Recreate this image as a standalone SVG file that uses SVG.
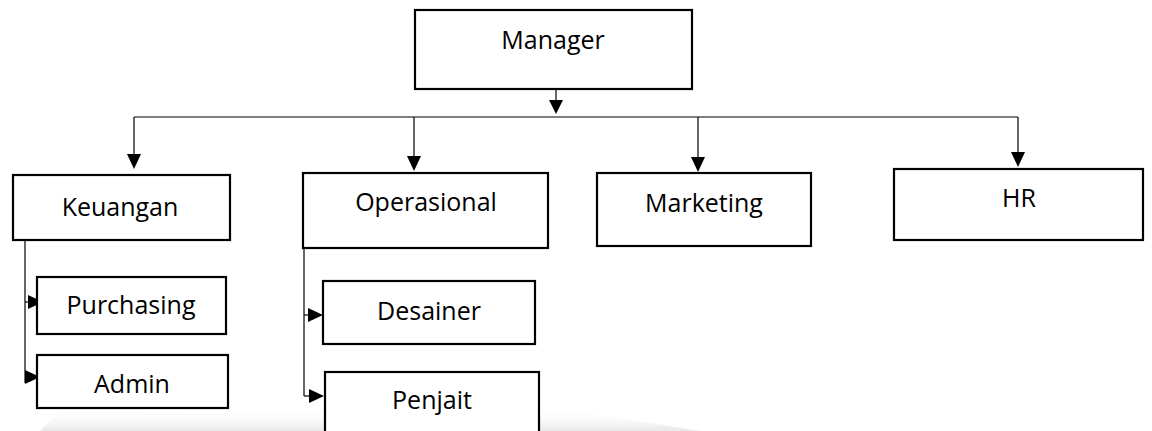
<svg xmlns="http://www.w3.org/2000/svg" width="1152" height="431" viewBox="0 0 1152 431">
  <style>
    .box { fill: #ffffff; stroke: #000000; stroke-width: 2.2; }
    .label { font-family: "Open Sans", "Liberation Sans", sans-serif; font-size: 25px; fill: #000000; text-anchor: middle; }
    .wire { fill: none; stroke: #000000; stroke-width: 1.2; }
    .tip { fill: #000000; stroke: none; }
  </style>
  <defs>
    <linearGradient id="floor" x1="0" y1="0" x2="0" y2="1">
      <stop offset="0" stop-color="#ffffff" stop-opacity="0"/>
      <stop offset="1" stop-color="#e6e6e6" stop-opacity="0.9"/>
    </linearGradient>
  </defs>

  <rect width="1152" height="431" fill="#ffffff"/>

  <!-- soft floor shade along the bottom edge -->
  <path d="M40 431 L60 412 L560 408 L700 431 Z" fill="url(#floor)"/>

  <!-- connectors -->
  <g id="connectors">
    <line class="wire" x1="556" y1="89" x2="556" y2="102"/>
    <polygon class="tip" points="549,100 563,100 556,114"/>
    <line class="wire" x1="134" y1="117" x2="1018" y2="117"/>
    <line class="wire" x1="134" y1="117" x2="134" y2="156"/>
    <polygon class="tip" points="127,154 141,154 134,169"/>
    <line class="wire" x1="414" y1="117" x2="414" y2="158"/>
    <polygon class="tip" points="407,156 421,156 414,171"/>
    <line class="wire" x1="698" y1="117" x2="698" y2="159"/>
    <polygon class="tip" points="691,157 705,157 698,172"/>
    <line class="wire" x1="1018" y1="117" x2="1018" y2="154"/>
    <polygon class="tip" points="1011,152 1025,152 1018,167"/>

    <line class="wire" x1="25" y1="240" x2="25" y2="383"/>
    <line class="wire" x1="25" y1="302" x2="30" y2="302"/>
    <polygon class="tip" points="28,295 28,309 43,302"/>
    <polygon class="tip" points="25,370 25,384 40,377"/>

    <line class="wire" x1="304" y1="248" x2="304" y2="396"/>
    <line class="wire" x1="304" y1="315" x2="310" y2="315"/>
    <polygon class="tip" points="308,308 308,322 323,315"/>
    <line class="wire" x1="304" y1="396" x2="310" y2="396"/>
    <polygon class="tip" points="309,389 309,403 324,396"/>
  </g>

  <g id="manager">
    <rect class="box" x="415" y="10" width="277" height="79"/>
    <text class="label" x="553" y="49">Manager</text>
  </g>
  <g id="keuangan">
    <rect class="box" x="13" y="175" width="217" height="65"/>
    <text class="label" x="120" y="216">Keuangan</text>
  </g>
  <g id="operasional">
    <rect class="box" x="303" y="173" width="245" height="75"/>
    <text class="label" x="426" y="211">Operasional</text>
  </g>
  <g id="marketing">
    <rect class="box" x="597" y="173" width="214" height="73"/>
    <text class="label" x="704" y="212">Marketing</text>
  </g>
  <g id="hr">
    <rect class="box" x="894" y="169" width="249" height="71"/>
    <text class="label" x="1019" y="207">HR</text>
  </g>
  <g id="purchasing">
    <rect class="box" x="37" y="277" width="189" height="57"/>
    <text class="label" x="131" y="314">Purchasing</text>
  </g>
  <g id="admin">
    <rect class="box" x="37" y="355" width="191" height="53"/>
    <text class="label" x="132" y="393">Admin</text>
  </g>
  <g id="desainer">
    <rect class="box" x="323" y="281" width="212" height="63"/>
    <text class="label" x="429" y="320">Desainer</text>
  </g>
  <g id="penjait">
    <rect class="box" x="325" y="372" width="214" height="70"/>
    <text class="label" x="432" y="409">Penjait</text>
  </g>
</svg>
